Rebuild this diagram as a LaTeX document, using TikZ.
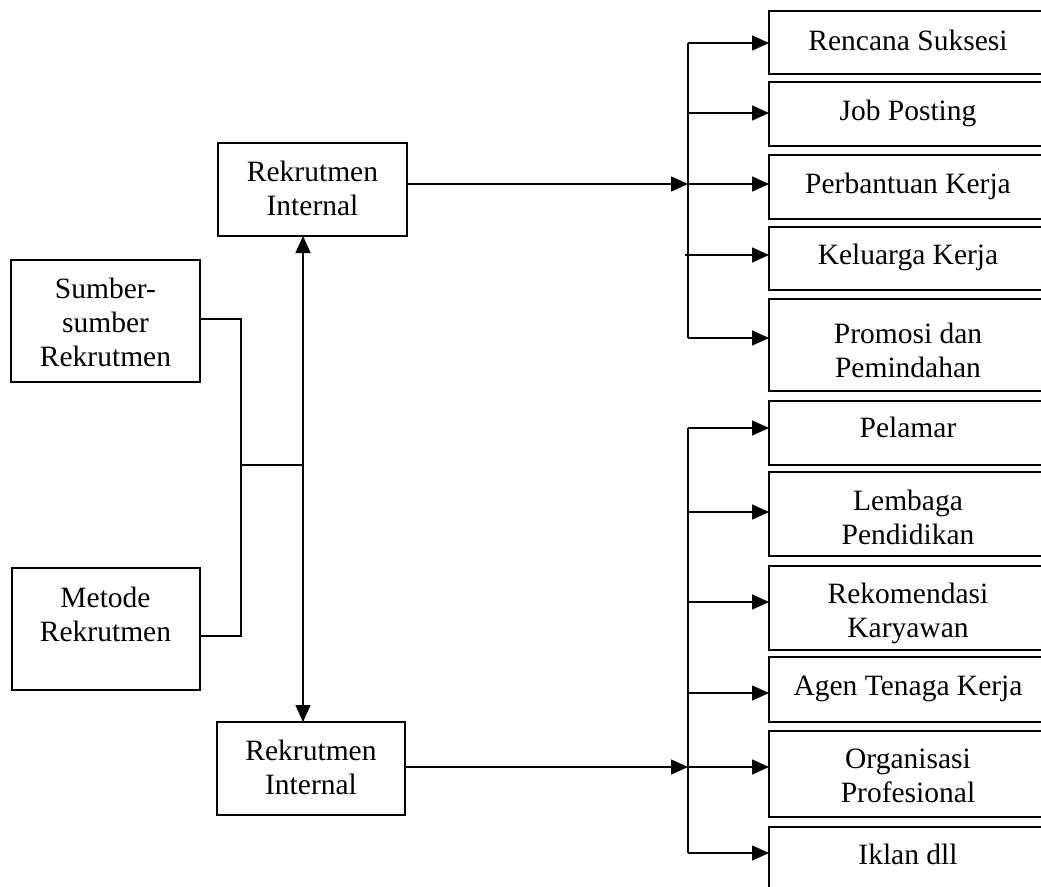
\documentclass[tikz,border=0pt]{standalone}
\usepackage{fontspec}
\setmainfont{Liberation Serif}
\usetikzlibrary{arrows.meta}
\begin{document}
\begin{tikzpicture}[x=1pt,y=-1pt,
  box/.style={draw, line width=1.6pt, inner sep=0pt, outer sep=0pt, anchor=north west},
  lbl/.style={font=\fontsize{29.5}{34}\selectfont, align=center, inner sep=0pt},
  conn/.style={line width=1.5pt},
  tipa/.tip={Triangle[length=17pt,width=15pt]},
  arr/.style={conn, -tipa},
  ]
\useasboundingbox (0,0) rectangle (1041,886);
\fill[white] (0,0) rectangle (1041,886);
\clip (0,0) rectangle (1041,886);

% left boxes
\node[box, minimum width=189pt, minimum height=93pt] (int1) at (218,143) {};
\node[lbl] (int1t) at (312.5,188.5) {Rekrutmen\\Internal};
\node[box, minimum width=189pt, minimum height=122pt] (sr) at (11,260) {};
\node[lbl] (srt) at (105.5,322.5) {Sumber-\\sumber\\Rekrutmen};
\node[box, minimum width=188pt, minimum height=122pt] (mr) at (12,568) {};
\node[lbl] (mrt) at (105.5,614.5) {Metode\\Rekrutmen};
\node[box, minimum width=188pt, minimum height=93pt] (int2) at (217,722) {};
\node[lbl] (int2t) at (311,767) {Rekrutmen\\Internal};

% right boxes
\node[box, minimum width=280pt, minimum height=63pt] (rs) at (769,11) {};
\node[lbl] (rst) at (908,40) {Rencana Suksesi};
\node[box, minimum width=280pt, minimum height=64pt] (jp) at (769,82) {};
\node[lbl] (jpt) at (908,113) {Job Posting};
\node[box, minimum width=280pt, minimum height=64pt] (pk) at (769,155) {};
\node[lbl] (pkt) at (908,186) {Perbantuan Kerja};
\node[box, minimum width=280pt, minimum height=63pt] (kk) at (769,227) {};
\node[lbl] (kkt) at (908,257) {Keluarga Kerja};
\node[box, minimum width=280pt, minimum height=92pt] (pp) at (769,299) {};
\node[lbl] (ppt) at (908,350) {Promosi dan\\Pemindahan};
\node[box, minimum width=280pt, minimum height=64pt] (pl) at (769,401) {};
\node[lbl] (plt) at (908,427.5) {Pelamar};
\node[box, minimum width=280pt, minimum height=84pt] (lp) at (769,472) {};
\node[lbl] (lpt) at (908,517) {Lembaga\\Pendidikan};
\node[box, minimum width=280pt, minimum height=84pt] (rk) at (769,566) {};
\node[lbl] (rkt) at (908,613) {Rekomendasi\\Karyawan};
\node[box, minimum width=280pt, minimum height=65pt] (ag) at (769,657) {};
\node[lbl] (agt) at (908,689) {Agen Tenaga Kerja};
\node[box, minimum width=280pt, minimum height=86pt] (op) at (769,731) {};
\node[lbl] (opt) at (908,776) {Organisasi\\Profesional};
\node[box, minimum width=280pt, minimum height=80pt] (ik) at (769,827) {};
\node[lbl] (ikt) at (908,854) {Iklan dll};

% left connectors
\coordinate (js) at (241,465);
\coordinate (jm) at (303,465);
\draw[conn] (sr.east |- 0,319) -| (js) |- (mr.east |- 0,636);
\draw[conn] (js) -- (jm);
\draw[conn, tipa-tipa] (int1.south -| jm) -- (int2.north -| jm);

% top branch
\coordinate (ja) at (688,184);
\coordinate (t1) at (688,43);
\coordinate (t2) at (688,113);
\coordinate (t4) at (685,255);
\coordinate (t5) at (688,338);
\draw[arr] (int1.east |- ja) -- (ja);
\draw[conn] (t1) -- (t5);
\draw[arr] (t1) -- (t1 -| rs.west);
\draw[arr] (t2) -- (t2 -| jp.west);
\draw[arr] (ja) -- (ja -| pk.west);
\draw[arr] (t4) -- (t4 -| kk.west);
\draw[arr] (t5) -- (t5 -| pp.west);

% bottom branch
\coordinate (jb) at (688,767);
\coordinate (b1) at (688,428);
\coordinate (b2) at (688,512);
\coordinate (b3) at (688,602);
\coordinate (b4) at (688,693);
\coordinate (b6) at (688,853);
\draw[arr] (int2.east |- jb) -- (jb);
\draw[conn] (b1) -- (b6);
\draw[arr] (b1) -- (b1 -| pl.west);
\draw[arr] (b2) -- (b2 -| lp.west);
\draw[arr] (b3) -- (b3 -| rk.west);
\draw[arr] (b4) -- (b4 -| ag.west);
\draw[arr] (jb) -- (jb -| op.west);
\draw[arr] (b6) -- (b6 -| ik.west);
\end{tikzpicture}
\end{document}
